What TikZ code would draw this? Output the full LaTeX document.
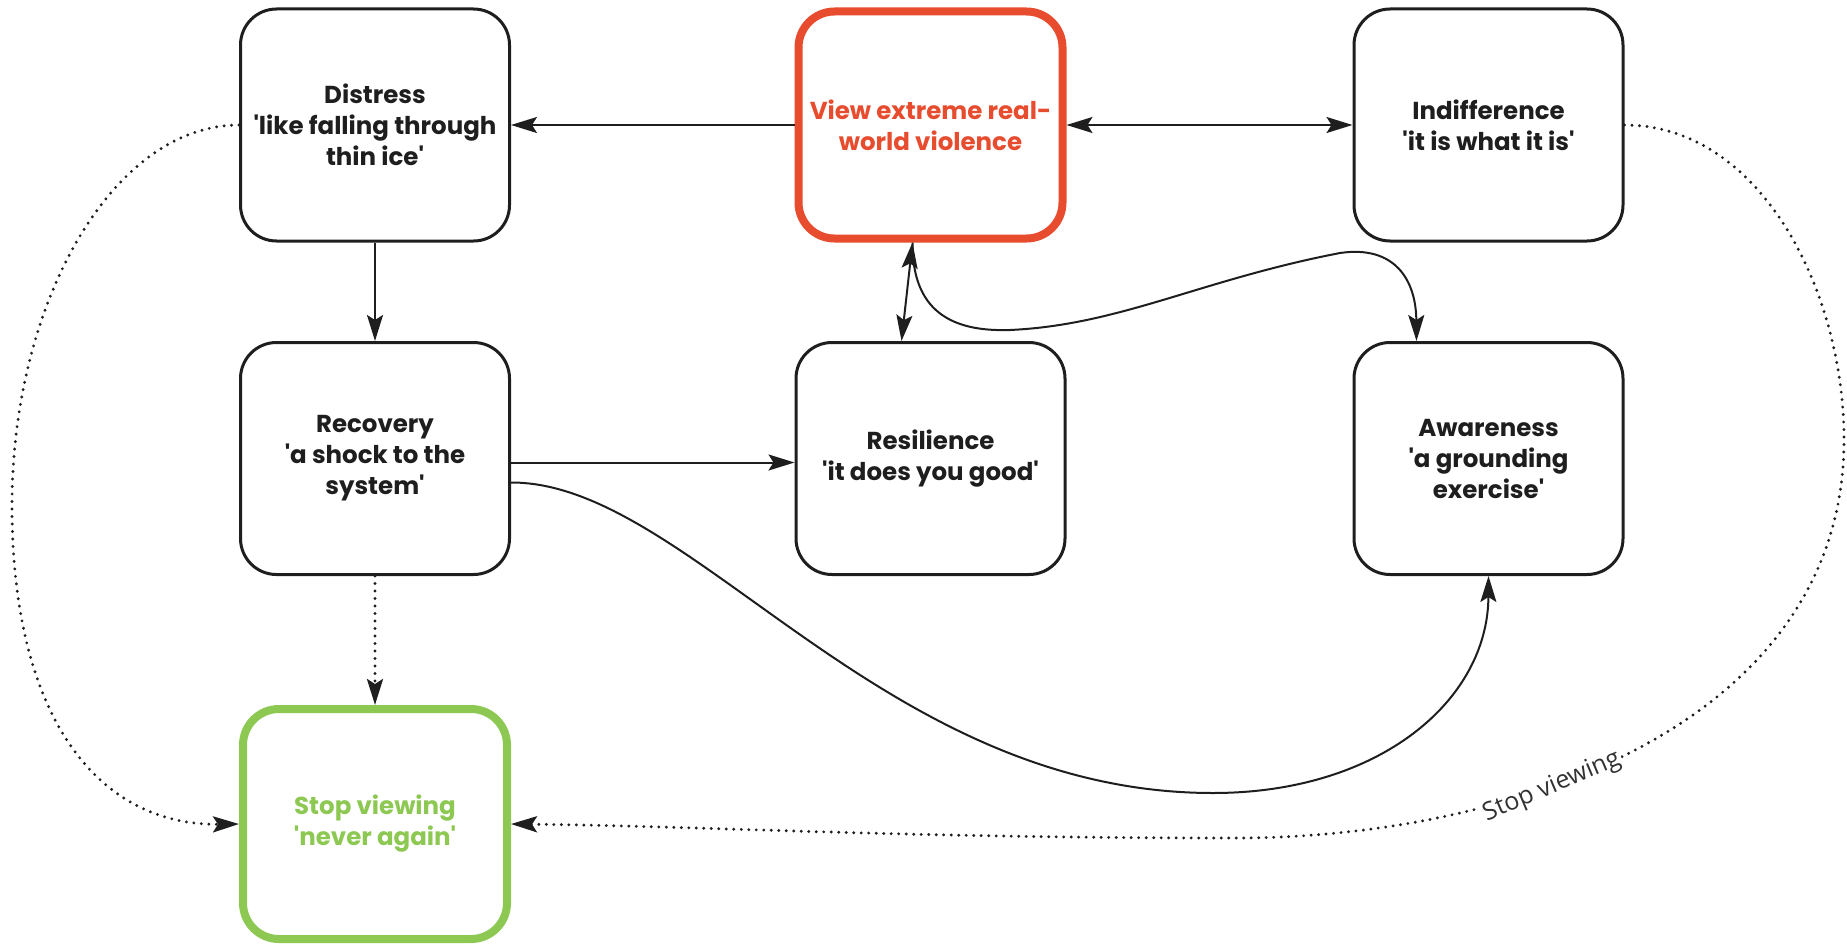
\documentclass[tikz,border=0pt]{standalone}
\usepackage{fontspec}
\setmainfont{Poppins}
\newfontfamily\labelfont{Open Sans}
\usetikzlibrary{arrows.meta}
\definecolor{vred}{RGB}{231,76,46}
\definecolor{vgreen}{RGB}{140,200,82}
\definecolor{ink}{RGB}{30,30,30}
\definecolor{lblgray}{RGB}{50,50,50}
\newcommand{\myq}{\textquotesingle}
\tikzset{
  box/.style={draw=ink, line width=3pt, rounded corners=36pt, minimum width=269pt,
    minimum height=232pt, align=center, text=ink, inner sep=0pt,
    font=\fontsize{24.5}{31}\selectfont\bfseries},
  redbox/.style={box, draw=vred, text=vred, line width=8pt, minimum width=264pt, minimum height=227pt},
  greenbox/.style={box, draw=vgreen, text=vgreen, line width=8pt, minimum width=264pt, minimum height=230pt},
  conn/.style={line width=2pt, draw=ink, >={Stealth[length=26pt,width=16pt,inset=5pt]}},
  dotconn/.style={conn, line width=3.2pt, dash pattern=on 0pt off 7.5pt, line cap=round},
  lbl/.style={font=\labelfont\fontsize{25}{30}\selectfont, text=lblgray, fill=white, inner sep=2pt, rotate=23}
}
\begin{document}
\begin{tikzpicture}[x=1pt,y=-1pt]
\useasboundingbox (0,0) rectangle (1847,950);
% nodes
\node[box] (dis) at (375,125) {Distress\\\myq like falling through\\thin ice\myq};
\node[redbox] (red) at (930.5,125) {View extreme real-\\world violence};
\node[box] (ind) at (1488.5,125) {Indifference\\\myq it is what it is\myq};
\node[box] (rec) at (375,458.5) {Recovery\\\myq a shock to the\\system\myq};
\node[box] (res) at (930.5,458.5) {Resilience\\\myq it does you good\myq};
\node[box] (awa) at (1488.5,458.5) {Awareness\\\myq a grounding\\exercise\myq};
\node[greenbox] (stop) at (375,824) {Stop viewing\\\myq never again\myq};
% connectors
\draw[conn,->] (red.west) -- (dis.east);
\draw[conn,<->] (red.east) -- (ind.west);
\draw[conn,->] (dis.south) -- (rec.north);
\draw[conn,->] ([yshift=-4pt]rec.east) -- ([yshift=-4pt]res.west);
\draw[conn,<->] ([xshift=-29pt]res.north) -- ([xshift=-18pt]red.south);
\draw[conn,->] ([xshift=-18pt]red.south) .. controls (912,310) and (950,332) .. (1010,330)
   .. controls (1120,325) and (1200,280) .. (1340,253)
   .. controls (1395,245) and (1416,280) .. ([xshift=-72pt]awa.north);
\draw[conn,->] ([yshift=-24pt]rec.east) .. controls (690,482) and (880,793) .. (1213,793)
   .. controls (1380,793) and (1488,700) .. (awa.south);
\draw[dotconn,->] (rec.south) -- (stop.north);
\draw[dotconn,->] (dis.west) .. controls (114,125) and (12,300) .. (12,506)
   .. controls (12,720) and (100,826) .. (stop.west);
\draw[dotconn,->] (ind.east) .. controls (1760,125) and (1844,290) .. (1844,440)
   .. controls (1844,720) and (1520,838) .. (1235,838)
   .. controls (900,838) and (700,826) .. (stop.east);
\node[lbl] (sv) at (1552,787) {Stop viewing};
\end{tikzpicture}
\end{document}
